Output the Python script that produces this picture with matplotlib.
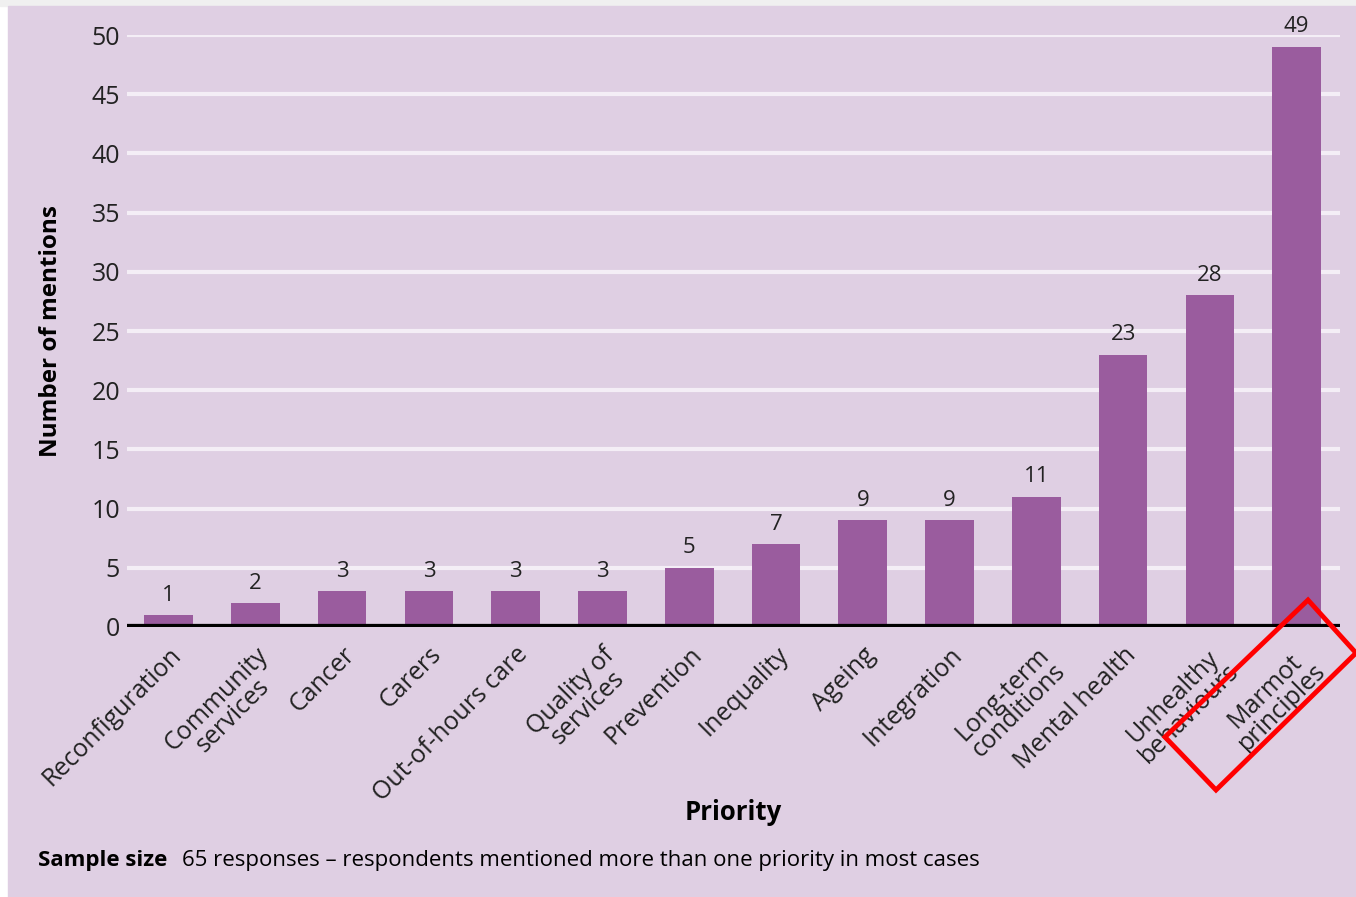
import matplotlib
matplotlib.use("Agg")
import matplotlib.pyplot as plt
from matplotlib.patches import Rectangle, Polygon

# data
priorities = ["Reconfiguration", "Community\nservices", "Cancer", "Carers",
              "Out-of-hours care", "Quality of\nservices", "Prevention",
              "Inequality", "Ageing", "Integration", "Long-term\nconditions",
              "Mental health", "Unhealthy\nbehaviours", "Marmot\nprinciples"]
mentions = [1, 2, 3, 3, 3, 3, 5, 7, 9, 9, 11, 23, 28, 49]
yticks = [0, 5, 10, 15, 20, 25, 30, 35, 40, 45, 50]

BG = "#dfcfe3"
BAR = "#9a5c9e"
FONT = "Open Sans"
W, H = 1356, 897

fig = plt.figure(figsize=(W / 100, H / 100), dpi=100, facecolor="white")
# page background: grey strip on top, purple panel
fig.patches.append(Rectangle((0, 1 - 6 / H), 1, 6 / H, transform=fig.transFigure,
                             color="#f0f0f0", zorder=-5))
fig.patches.append(Rectangle((8 / W, 0), 1 - 8 / W, 1 - 6 / H, transform=fig.transFigure,
                             color=BG, zorder=-5))

ax = fig.add_axes([127 / W, 270 / H, (1340 - 127) / W, (862 - 270) / H])
ax.set_facecolor("none")
x = list(range(len(priorities)))
ax.bar(x, mentions, width=0.56, color=BAR, zorder=3)
for xi, v in zip(x, mentions):
    ax.text(xi, v + 0.8, str(v), ha="center", va="bottom", fontsize=16,
            family=FONT, color="#222222", clip_on=False)

ax.set_xlim(-0.48, 13.5)
ax.set_ylim(0, 50)
ax.set_yticks(yticks)
ax.yaxis.grid(True, color="#f4eef6", lw=3)
ax.set_axisbelow(True)
ax.axhline(0, color="black", lw=4.5, zorder=4)
for s in ax.spines.values():
    s.set_visible(False)
ax.tick_params(length=0, labelsize=18, pad=5, colors="#222222")
for lab in ax.get_yticklabels():
    lab.set_family(FONT)

ax.set_xticks(x)
ax.set_xticklabels(priorities, rotation=45, ha="right", va="top",
                   rotation_mode="anchor", fontsize=18, family=FONT,
                   multialignment="center", linespacing=0.9)
ax.tick_params(axis="x", pad=11)

ax.set_ylabel("Number of mentions", fontsize=17.5, fontweight="bold", family=FONT)
ax.yaxis.set_label_coords(-0.053, 0.5)
fig.text(733 / W, 1 - 812 / H, "Priority", ha="center", va="center",
         fontsize=18.5, fontweight="bold", family=FONT)

fig.text(38 / W, 1 - 860 / H, "Sample size", ha="left", va="center",
         fontsize=16, fontweight="bold", family=FONT)
fig.text(182 / W, 1 - 860 / H,
         "65 responses \u2013 respondents mentioned more than one priority in most cases",
         ha="left", va="center", fontsize=16, family=FONT)

# red highlight box around the last label
box = [(1308, 600), (1356, 653), (1216, 790), (1165, 737)]
fig.patches.append(Polygon([(px / W, 1 - py / H) for px, py in box], closed=True,
                           transform=fig.transFigure, fill=False,
                           edgecolor="#ff0000", lw=3.5, zorder=10))

fig.savefig("out.png", dpi=100, facecolor=fig.get_facecolor())
